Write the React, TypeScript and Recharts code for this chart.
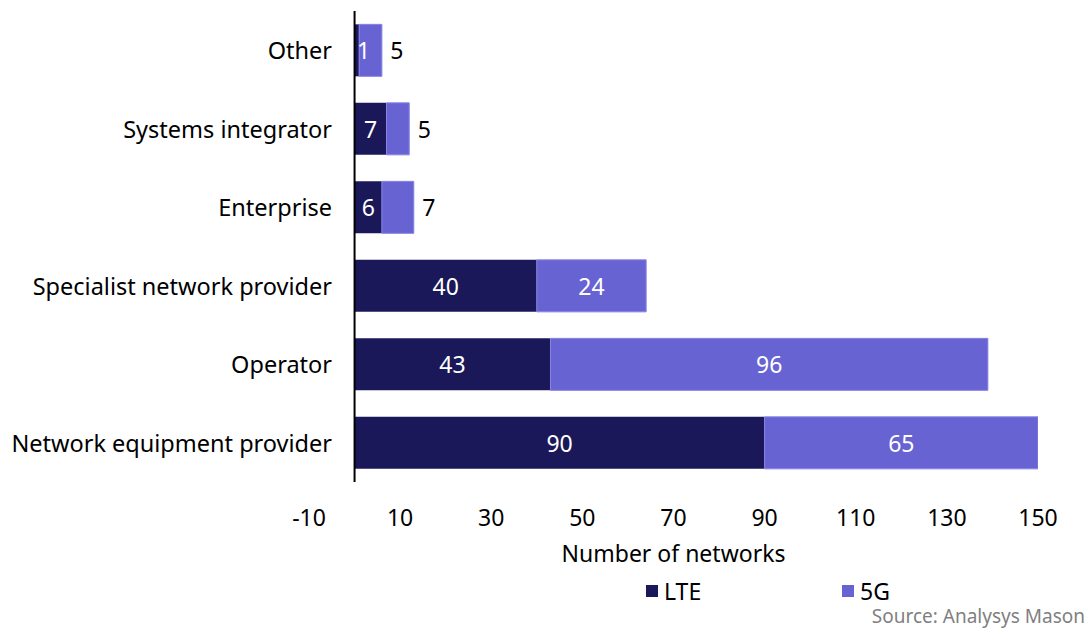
import { BarChart, Bar, XAxis, YAxis, ReferenceLine, LabelList, Legend } from 'recharts'

const categories = [
  'Other',
  'Systems integrator',
  'Enterprise',
  'Specialist network provider',
  'Operator',
  'Network equipment provider',
]
const lte = [1, 7, 6, 40, 43, 90]
const fiveG = [5, 5, 7, 24, 96, 65]
const xTicks = [-10, 10, 30, 50, 70, 90, 110, 130, 150]
const xMax = 150

const LTE_COLOR = '#1a1858'
const G5_COLOR = '#6763d2'
const FONT = '"Noto Sans", sans-serif'
const FS = 23

const data = categories.map((name, i) => ({ name, lte: lte[i], fiveG: fiveG[i] }))

function CategoryTick({ x, y, payload }: any) {
  return (
    <text x={x + 31} y={y} textAnchor="end" dominantBaseline="central" fontSize={23.5} fill="#000" fontFamily={FONT}>
      {payload.value}
    </text>
  )
}

function LteLabel({ x, y, width, height, value }: any) {
  const cx = Math.max(x + width / 2, x + 9)
  return (
    <text x={cx} y={y + height / 2} textAnchor="middle" dominantBaseline="central" fontSize={FS} fill="#fff" fontFamily={FONT}>
      {value}
    </text>
  )
}

function FiveGLabel({ x, y, width, height, value }: any) {
  const outside = width < 40
  const cx = outside ? x + width + 15 : x + width / 2
  return (
    <text x={cx} y={y + height / 2} textAnchor="middle" dominantBaseline="central" fontSize={FS} fill={outside ? '#000' : '#fff'} fontFamily={FONT}>
      {value}
    </text>
  )
}

function LegendContent() {
  const items = [
    { label: 'LTE', color: LTE_COLOR },
    { label: '5G', color: G5_COLOR },
  ]
  return (
    <div style={{ display: 'flex', paddingLeft: 646, fontFamily: FONT, fontSize: FS, lineHeight: '28px', transform: 'translateY(-5px)' }}>
      {items.map((it) => (
        <div key={it.label} style={{ display: 'flex', alignItems: 'center', gap: 6, width: 234 }}>
          <div style={{ width: 12, height: 12, background: it.color }} />
          <span>{it.label}</span>
        </div>
      ))}
    </div>
  )
}

export default function App() {
  return (
    <div style={{ position: 'absolute', left: 0, top: 0, width: 1088, height: 628, background: '#fff', overflow: 'hidden' }}>
      <BarChart
        width={1088}
        height={628}
        data={data}
        layout="vertical"
        margin={{ top: 11, right: 50, bottom: 0, left: 0 }}
        barCategoryGap="17%"
      >
        <XAxis
          type="number"
          domain={[-10, xMax]}
          ticks={xTicks}
          allowDataOverflow
          axisLine={false}
          tickLine={false}
          tick={{ fontSize: FS, fill: '#000', fontFamily: FONT }}
          tickMargin={22}
          height={100}
          label={{ value: 'Number of networks', position: 'insideBottom', offset: 20, fontSize: FS, fill: '#000', fontFamily: FONT }}
        />
        <YAxis
          type="category"
          dataKey="name"
          width={309}
          axisLine={false}
          tickLine={false}
          tick={<CategoryTick />}
        />
        <ReferenceLine x={0} stroke="#000" strokeWidth={2} />
        <Legend verticalAlign="bottom" height={46} content={<LegendContent />} />
        <Bar dataKey="lte" stackId="a" fill={LTE_COLOR} isAnimationActive={false}>
          <LabelList dataKey="lte" content={<LteLabel />} />
        </Bar>
        <Bar dataKey="fiveG" stackId="a" fill={G5_COLOR} stroke="#8884e6" strokeWidth={1} isAnimationActive={false}>
          <LabelList dataKey="fiveG" content={<FiveGLabel />} />
        </Bar>
      </BarChart>
      <div style={{ position: 'absolute', right: 3, bottom: 0, fontFamily: FONT, fontSize: 19, lineHeight: '23px', color: '#7f7f7f' }}>
        Source: Analysys Mason
      </div>
    </div>
  )
}
